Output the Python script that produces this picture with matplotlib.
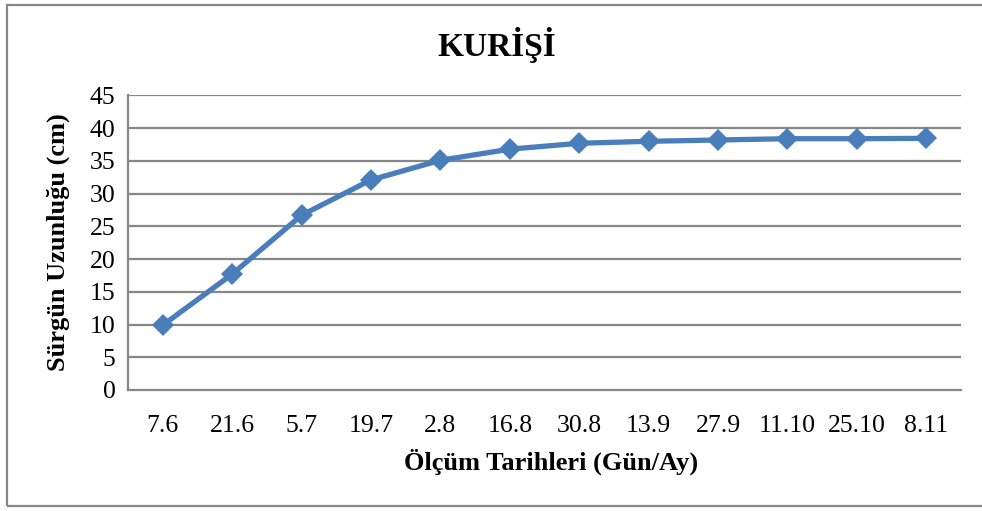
import matplotlib
matplotlib.use("Agg")
import matplotlib.pyplot as plt
from matplotlib.patches import Rectangle

categories = ["7.6", "21.6", "5.7", "19.7", "2.8", "16.8", "30.8", "13.9",
              "27.9", "11.10", "25.10", "8.11"]
values = [9.9, 17.7, 26.7, 32.1, 35.1, 36.8, 37.7, 38.0, 38.2, 38.4, 38.4, 38.45]
yticks = [0, 5, 10, 15, 20, 25, 30, 35, 40, 45]

title = "KURİŞİ"
xlabel = "Ölçüm Tarihleri (Gün/Ay)"
ylabel = "Sürgün Uzunluğu (cm)"

plt.rcParams['font.family'] = ['Liberation Serif', 'DejaVu Serif']

W, H = 982, 511
fig = plt.figure(figsize=(W / 100, H / 100), dpi=100)
ax = fig.add_axes([128 / W, 1 - 390 / H, (961 - 128) / W, (390 - 95.5) / H])

grid_c = "#878787"
line_c = "#4A7EBB"

x = list(range(len(categories)))
ax.plot(x, values, color=line_c, lw=3.8, marker="D", ms=11.5, mew=0,
        mfc=line_c, zorder=3, solid_joinstyle="round")

ax.set_xlim(-0.5, len(categories) - 0.5)
ax.set_ylim(0, 45)
ax.set_yticks(yticks)
ax.set_yticklabels([str(v) for v in yticks])
ax.set_xticks(x)
ax.set_xticklabels(categories)
ax.tick_params(axis="both", length=0, labelsize=18.5, colors="black")
ax.tick_params(axis="x", pad=18)
ax.tick_params(axis="y", pad=9)

for yv in yticks[1:]:
    ax.axhline(yv, color=grid_c, lw=1.6, zorder=1)

for s in ["top", "right"]:
    ax.spines[s].set_visible(False)
for s in ["left", "bottom"]:
    ax.spines[s].set_color(grid_c)
    ax.spines[s].set_linewidth(1.6)

fig.text(497 / W, 1 - 45 / H, title, ha="center", va="center",
         fontsize=24, fontweight="bold")
fig.text(551 / W, 1 - 462 / H, xlabel, ha="center", va="center",
         fontsize=19, fontweight="bold")
fig.text(58 / W, 1 - 242 / H, ylabel, ha="center", va="center",
         fontsize=19, fontweight="bold", rotation=90)

fig.patches.append(Rectangle((7 / W, 1 - 506 / H), 1.2, (506 - 5) / H,
                             transform=fig.transFigure, fill=False,
                             edgecolor=grid_c, lw=1.6))

fig.savefig("out.png", dpi=100)
